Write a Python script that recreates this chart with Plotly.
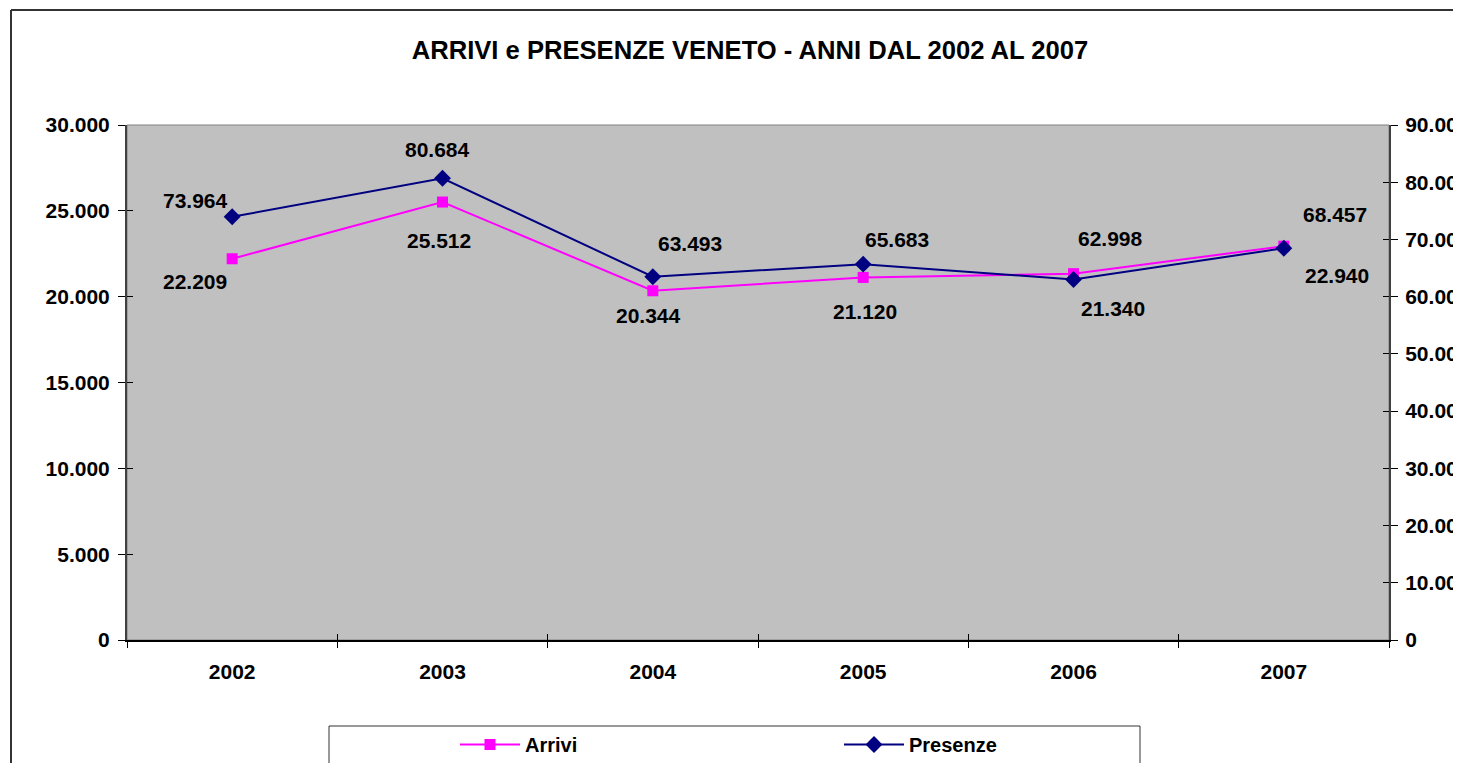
import plotly.graph_objects as go

# ---- data ----
years = ["2002", "2003", "2004", "2005", "2006", "2007"]
arrivi = [22209, 25512, 20344, 21120, 21340, 22940]
presenze = [73964, 80684, 63493, 65683, 62998, 68457]
arrivi_labels = ["22.209", "25.512", "20.344", "21.120", "21.340", "22.940"]
presenze_labels = ["73.964", "80.684", "63.493", "65.683", "62.998", "68.457"]

title_text = "ARRIVI e PRESENZE VENETO - ANNI DAL 2002 AL 2007"

# label offsets (screen px) – styling only
arrivi_shift = [(-37, -23), (-4, -38), (-4, -25), (2, -34), (39, -35), (53, -29)]
presenze_shift = [(-37, 16), (-5, 29), (37, 33), (34, 25), (37, 41), (51, 34)]

# page body has an 8px margin -> work in figure-local pixels
OFF = 8
W, H = 1461 - OFF, 763 - OFF
ML, MT = 127 - OFF, 125 - OFF
MR = W - (1389 - OFF)
MB = H - (640 - OFF)
PW, PH = W - ML - MR, H - MT - MB

def px2x(px):
    return (px - OFF - ML) / PW

def py2y(py):
    return (H - MB - (py - OFF)) / PH

FONT = "Liberation Sans, Arial, sans-serif"
PINK = "#FF00FF"
NAVY = "#000080"

fig = go.Figure()
fig.add_trace(go.Scatter(
    x=years, y=arrivi, name="Arrivi", mode="lines+markers",
    line=dict(color=PINK, width=2),
    marker=dict(symbol="square", size=11, color=PINK),
    xaxis="x", yaxis="y", hoverinfo="skip"))
fig.add_trace(go.Scatter(
    x=years, y=presenze, name="Presenze", mode="lines+markers",
    line=dict(color=NAVY, width=2),
    marker=dict(symbol="diamond", size=13, color=NAVY),
    xaxis="x", yaxis="y2", hoverinfo="skip"))
# helper traces so overlay axes (inside tick halves) get drawn
fig.add_trace(go.Scatter(x=years, y=arrivi, mode="none", showlegend=False,
                         xaxis="x2", yaxis="y3", hoverinfo="skip"))
fig.add_trace(go.Scatter(x=years, y=presenze, mode="none", showlegend=False,
                         xaxis="x2", yaxis="y4", hoverinfo="skip"))

tickfont = dict(family=FONT, size=21, color="black", weight="bold")

annotations = []
for i, yr in enumerate(years):
    dx, dy = arrivi_shift[i]
    annotations.append(dict(x=i, y=arrivi[i], xref="x", yref="y",
                            text=arrivi_labels[i], showarrow=False,
                            xshift=dx, yshift=dy, font=tickfont))
    dx, dy = presenze_shift[i]
    annotations.append(dict(x=i, y=presenze[i], xref="x", yref="y2",
                            text=presenze_labels[i], showarrow=False,
                            xshift=dx, yshift=dy, font=tickfont))

border = dict(color="#333333", width=2)
shapes = [
    # plot area frame (top border grey)
    dict(type="rect", xref="x domain", yref="y domain", x0=0, x1=1, y0=0, y1=1,
         line=dict(color="#808080", width=1), fillcolor="rgba(0,0,0,0)", layer="below"),
    # outer chart border (left and top edges visible)
    dict(type="line", xref="paper", yref="paper",
         x0=px2x(11), x1=px2x(11), y0=py2y(10), y1=py2y(800), line=border),
    dict(type="line", xref="paper", yref="paper",
         x0=px2x(11), x1=px2x(1500), y0=py2y(10), y1=py2y(10), line=border),
    # legend box
    dict(type="rect", xref="paper", yref="paper",
         x0=px2x(329), x1=px2x(1140), y0=py2y(726), y1=py2y(800),
         line=dict(color="#333333", width=1), fillcolor="white"),
]

fig.update_layout(
    width=W, height=H,
    margin=dict(l=ML, r=MR, t=MT, b=MB, autoexpand=False),
    paper_bgcolor="white", plot_bgcolor="#C0C0C0",
    separators=",.",
    title=dict(text=title_text, xref="container", yref="container",
               x=(750 - OFF) / W, y=1 - (50 - OFF) / H,
               xanchor="center", yanchor="middle",
               font=dict(family=FONT, size=25.6, color="black", weight="bold")),
    xaxis=dict(type="category", categoryorder="array", categoryarray=years,
               range=[-0.5, 5.5], tickson="boundaries", ticks="outside",
               ticklen=6, tickwidth=1, tickcolor="black",
               showline=True, linecolor="black", linewidth=2,
               showgrid=False, zeroline=False, tickfont=tickfont,
               ticklabelstandoff=12, automargin=False, fixedrange=True),
    xaxis2=dict(type="category", categoryorder="array", categoryarray=years,
                overlaying="x", anchor="y", range=[-0.5, 5.5],
                tickson="boundaries", ticks="inside", ticklen=6, tickwidth=1,
                tickcolor="black", showticklabels=False, showline=False,
                showgrid=False, zeroline=False, automargin=False),
    yaxis=dict(range=[0, 30000], dtick=5000, tickformat=",.0f",
               ticks="outside", ticklen=7, tickwidth=1, tickcolor="black",
               showline=True, linecolor="#404040", linewidth=2,
               showgrid=False, zeroline=False, tickfont=tickfont,
               ticklabelstandoff=4, automargin=False, fixedrange=True),
    yaxis2=dict(range=[0, 90000], dtick=10000, tickformat=",.0f",
                overlaying="y", side="right", anchor="x",
                ticks="outside", ticklen=7, tickwidth=1, tickcolor="black",
                showline=True, linecolor="#404040", linewidth=2,
                showgrid=False, zeroline=False, tickfont=tickfont,
                ticklabelstandoff=3, automargin=False, fixedrange=True),
    yaxis3=dict(range=[0, 30000], dtick=5000, overlaying="y", anchor="x2",
                side="left", ticks="inside", ticklen=6, tickwidth=1,
                tickcolor="black", showticklabels=False, showline=False,
                showgrid=False, zeroline=False, automargin=False),
    yaxis4=dict(range=[0, 90000], dtick=10000, overlaying="y", anchor="x2",
                side="right", ticks="inside", ticklen=6, tickwidth=1,
                tickcolor="black", showticklabels=False, showline=False,
                showgrid=False, zeroline=False, automargin=False),
    showlegend=True,
    legend=dict(orientation="h", x=px2x(455), y=py2y(725), xanchor="left",
                yanchor="top", bgcolor="rgba(0,0,0,0)", borderwidth=0,
                itemwidth=60,
                entrywidth=309, entrywidthmode="pixels",
                font=dict(family=FONT, size=20, color="black", weight="bold")),
    annotations=annotations,
    shapes=shapes,
)

fig.write_html("out.html")
